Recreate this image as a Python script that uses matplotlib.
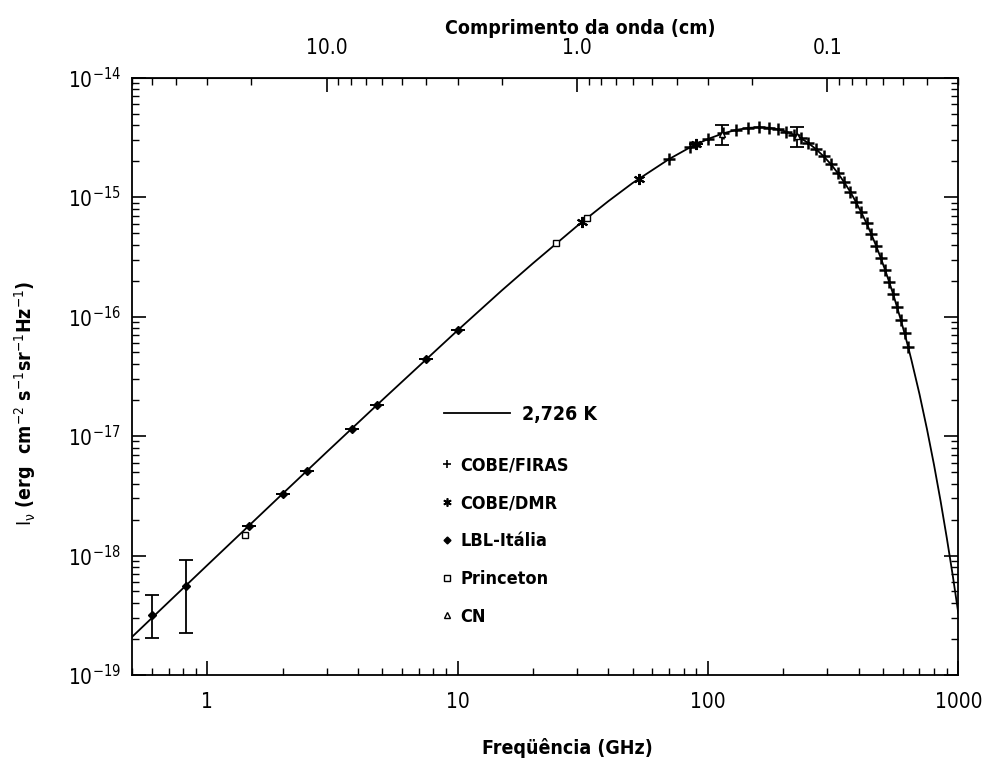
import numpy as np
import matplotlib
matplotlib.use("Agg")
from matplotlib import pyplot as plt
from matplotlib.lines import Line2D

plt.rcParams['font.family'] = ['DejaVu Sans']
plt.rcParams['font.stretch'] = 'condensed'
plt.rcParams['mathtext.fontset'] = 'dejavusans'

# blackbody curve 2,726 K (GHz, erg cm-2 s-1 sr-1 Hz-1)
curve_freq = [0.5, 1, 2, 3, 5, 10, 15, 20, 30, 40, 50, 70, 85, 100, 115, 130, 145,
              160, 175, 190, 205, 220, 235, 250, 270, 290, 310, 330, 350, 370, 390,
              410, 430, 450, 470, 490, 510, 530, 550, 570, 590, 610, 630, 650, 700,
              750, 800, 850, 900, 950, 1000]
curve_I = [2.08e-19, 8.30e-19, 3.29e-18, 7.34e-18, 2.00e-17, 7.66e-17, 1.65e-16,
           2.79e-16, 5.72e-16, 9.23e-16, 1.31e-15, 2.08e-15, 2.61e-15, 3.06e-15,
           3.41e-15, 3.65e-15, 3.79e-15, 3.84e-15, 3.80e-15, 3.69e-15, 3.53e-15,
           3.33e-15, 3.10e-15, 2.86e-15, 2.52e-15, 2.19e-15, 1.88e-15, 1.59e-15,
           1.33e-15, 1.11e-15, 9.10e-16, 7.43e-16, 6.03e-16, 4.86e-16, 3.89e-16,
           3.10e-16, 2.46e-16, 1.94e-16, 1.53e-16, 1.19e-16, 9.31e-17, 7.24e-17,
           5.61e-17, 4.32e-17, 2.24e-17, 1.14e-17, 5.74e-18, 2.85e-18, 1.40e-18,
           6.85e-19, 3.31e-19]

# COBE/FIRAS
firas_freq = [70, 85, 100, 115, 130, 145, 160, 175, 190, 205, 220, 235, 250, 270,
              290, 310, 330, 350, 370, 390, 410, 430, 450, 470, 490, 510, 530, 550,
              570, 590, 610, 630]
firas_I = [2.08e-15, 2.61e-15, 3.06e-15, 3.41e-15, 3.65e-15, 3.79e-15, 3.84e-15,
           3.80e-15, 3.69e-15, 3.53e-15, 3.33e-15, 3.10e-15, 2.86e-15, 2.52e-15,
           2.19e-15, 1.88e-15, 1.59e-15, 1.33e-15, 1.11e-15, 9.10e-16, 7.43e-16,
           6.03e-16, 4.86e-16, 3.89e-16, 3.10e-16, 2.46e-16, 1.94e-16, 1.53e-16,
           1.19e-16, 9.31e-17, 7.24e-17, 5.61e-17]

# COBE/DMR
dmr_freq = [31.5, 53, 90]
dmr_I = [6.2e-16, 1.42e-15, 2.77e-15]

# LBL-Italia
lbl_freq = [0.6, 0.82, 1.47, 2.0, 2.5, 3.8, 4.75, 7.5, 10.0, 90.0]
lbl_I = [3.2e-19, 5.6e-19, 1.75e-18, 3.25e-18, 5.1e-18, 1.14e-17, 1.81e-17,
         4.4e-17, 7.66e-17, 2.77e-15]
lbl_err_lo = [1.15e-19, 3.35e-19, 0, 0, 0, 0, 0, 0, 0, 0]
lbl_err_hi = [1.5e-19, 3.5e-19, 0, 0, 0, 0, 0, 0, 0, 0]

# Princeton
prin_freq = [1.41, 24.8, 33.0]
prin_I = [1.48e-18, 4.1e-16, 6.7e-16]

# CN
cn_freq = [113.6, 227.0]
cn_I = [3.38e-15, 3.23e-15]
cn_err = [0.65e-15, 0.6e-15]

fig = plt.figure(figsize=(9.92, 7.64), dpi=100)
ax = fig.add_axes([0.133, 0.1165, 0.833, 0.782])

ax.plot(curve_freq, curve_I, color='black', lw=1.3, zorder=2)

ax.errorbar(lbl_freq, lbl_I, yerr=[lbl_err_lo, lbl_err_hi], fmt='D', ms=4,
            color='black', ecolor='black', elinewidth=1.3, capsize=5, capthick=1.3,
            zorder=3)
ax.plot(firas_freq, firas_I, '+', ms=9, mew=1.8, color='black', zorder=3)
ax.plot(dmr_freq, dmr_I, marker=(6, 2, 0), ls='none', ms=8, mew=1.5,
        color='black', zorder=3)
ax.plot(prin_freq, prin_I, 's', ms=5, mfc='white', mec='black', mew=1.0, zorder=4)
ax.errorbar(cn_freq, cn_I, yerr=cn_err, fmt='^', ms=5, mfc='white', mec='black',
            ecolor='black', elinewidth=1.3, capsize=5, capthick=1.3, zorder=4)

ax.set_xscale('log')
ax.set_yscale('log')
ax.set_xlim(0.5, 1000)
ax.set_ylim(1e-19, 1e-14)

ax.set_xticks([1, 10, 100, 1000])
ax.set_xticklabels(['1', '10', '100', '1000'])
ax.tick_params(axis='both', which='major', direction='in', length=10, width=1.2,
               labelsize=15)
ax.tick_params(axis='both', which='minor', direction='in', length=5, width=1.0)
ax.tick_params(axis='x', which='major', pad=12)
ax.tick_params(axis='y', which='major', pad=8)
ax.tick_params(axis='y', which='both', right=True)
ax.tick_params(axis='x', which='both', top=False)
for s in ax.spines.values():
    s.set_linewidth(1.3)

ax.set_xlabel('Freqüência (GHz)', fontsize=14, fontweight='bold')
ax.xaxis.set_label_coords(0.527, -0.105)
ax.set_ylabel(r'$\mathrm{I_\nu}$ (erg  cm$^{-2}$ s$^{-1}$sr$^{-1}$Hz$^{-1}$)',
              fontsize=14, fontweight='bold')
ax.yaxis.set_label_coords(-0.114, 0.455)

# top axis: wavelength in cm
secax = ax.secondary_xaxis('top', functions=(lambda f: 30.0 / np.asarray(f, float),
                                             lambda l: 30.0 / np.asarray(l, float)))
secax.set_xticks([10, 1, 0.1])
secax.set_xticklabels(['10.0', '1.0', '0.1'])
secax.tick_params(which='major', direction='in', length=10, width=1.2,
                  labelsize=15, pad=14)
secax.tick_params(which='minor', direction='in', length=5, width=1.0)
secax.set_xlabel('Comprimento da onda (cm)', fontsize=14, fontweight='bold',
                 labelpad=3, x=0.542)

# legends
line_h = [Line2D([], [], color='black', lw=1.3)]
leg1 = ax.legend(line_h, ['2,726 K'], loc='upper left', bbox_to_anchor=(0.378, 0.452),
                 frameon=False, handlelength=3.4, handletextpad=0.6,
                 borderpad=0, borderaxespad=0, prop={'weight': 'bold', 'size': 14})
ax.add_artist(leg1)

mk_h = [Line2D([], [], marker='+', ls='none', ms=6, mew=1.2, color='black'),
        Line2D([], [], marker=(6, 2, 0), ls='none', ms=6, mew=1.2, color='black'),
        Line2D([], [], marker='D', ls='none', ms=3.5, color='black'),
        Line2D([], [], marker='s', ls='none', ms=5, mfc='white', mec='black'),
        Line2D([], [], marker='^', ls='none', ms=5, mfc='white', mec='black')]
mk_l = ['COBE/FIRAS', 'COBE/DMR', 'LBL-Itália', 'Princeton', 'CN']
ax.legend(mk_h, mk_l, loc='upper left', bbox_to_anchor=(0.372, 0.366),
          frameon=False, handlelength=0.8, handletextpad=0.35, labelspacing=1.1,
          borderpad=0, borderaxespad=0, prop={'weight': 'bold', 'size': 13})

fig.savefig('out.png', dpi=100)
